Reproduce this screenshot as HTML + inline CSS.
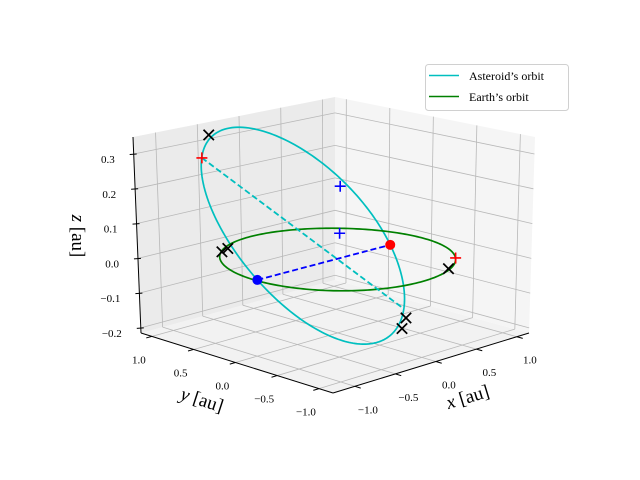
<!DOCTYPE html>
<html><head><meta charset="utf-8"><style>
html,body{margin:0;padding:0;background:#fff;}
svg{display:block;font-family:"Liberation Serif",serif;}
</style></head><body>
<svg id="chart" width="640" height="480" viewBox="0 0 640 480" xmlns="http://www.w3.org/2000/svg">
<g id="panes"></g><g id="grid"></g><g id="axes"></g><g id="series"></g><g id="marks"></g>
<g>
<rect x="425.5" y="64.5" width="143" height="46" rx="3" fill="#fff" fill-opacity="0.8" stroke="#d0d0d0"/>
<line x1="429" y1="75.5" x2="459" y2="75.5" stroke="#00bfbf" stroke-width="1.5"/>
<text x="469" y="80" font-size="12">Asteroid’s orbit</text>
<line x1="429" y1="96.5" x2="459" y2="96.5" stroke="#008000" stroke-width="1.5"/>
<text x="469" y="101" font-size="12">Earth’s orbit</text>
</g>
<text x="468" y="403" font-size="19" text-anchor="middle" transform="rotate(-17 468 398)"><tspan font-style="italic">x</tspan> [au]</text>
<text x="202" y="406" font-size="19" text-anchor="middle" transform="rotate(18 202 400)"><tspan font-style="italic">y</tspan> [au]</text>
<text x="72" y="236" font-size="19" text-anchor="middle" transform="rotate(90 72 236)"><tspan font-style="italic">z</tspan> [au]</text>
</svg>
<script>
const xTicks=[-1,-0.5,0,0.5,1];
const yTicks=[-1,-0.5,0,0.5,1];
const zTicks=[-0.2,-0.1,0,0.1,0.2,0.3];
const xTickLabels=["−1.0","−0.5","0.0","0.5","1.0"];
const yTickLabels=["−1.0","−0.5","0.0","0.5","1.0"];
const zTickLabels=["−0.2","−0.1","0.0","0.1","0.2","0.3"];
const xRange=[-1.27,1.15];
const yRange=[-1.168,1.13];
const zRange=[-0.2147,0.349];
// asteroid orbital elements: a, e, inclination deg, node deg, arg of perihelion deg
const asteroidElements=[0.875,0.333,17.7,0,-51.7];
const earthRadius=[1.0];
const redPlusPts=[[-0.723,0.87,0.278],[0.725,-0.69,0]];
const bluePlusPts=[[0.527,0.473,0.151],[0.614,0.564,0]];
const blackXPts=[[-0.485,1.015,0.324],[-0.567,0.815,0],[-0.451,0.857,0],[0.438,-0.882,0],[0.326,-0.497,-0.159],[0.215,-0.557,-0.178]];

const NS="http://www.w3.org/2000/svg";
const C={F0:[333,393],R0:[529,333],L0:[141,333],B0:[335,280],F1:[332,188],R1:[535,137],L1:[133,137],B1:[335,97]};
function proj(x,y,z){
  const u=(x-xRange[0])/(xRange[1]-xRange[0]),v=(y-yRange[0])/(yRange[1]-yRange[0]),w=(z-zRange[0])/(zRange[1]-zRange[0]);
  const bl=(F,R,L,B,i)=>F[i]*(1-u)*(1-v)+R[i]*u*(1-v)+L[i]*(1-u)*v+B[i]*u*v;
  return [0,1].map(i=>bl(C.F0,C.R0,C.L0,C.B0,i)*(1-w)+bl(C.F1,C.R1,C.L1,C.B1,i)*w);
}
function mk(tag,attrs,parent){const e=document.createElementNS(NS,tag);for(const k in attrs)e.setAttribute(k,attrs[k]);document.getElementById(parent).appendChild(e);return e;}
function poly(pts){return pts.map(p=>p[0].toFixed(2)+","+p[1].toFixed(2)).join(" ");}
const [x0,x1]=xRange,[y0,y1]=yRange,[z0,z1]=zRange;
let e;
e=mk("polygon",{points:poly([proj(x0,y0,z0),proj(x1,y0,z0),proj(x1,y1,z0),proj(x0,y1,z0)]),fill:"#f2f2f2"},"panes");


e=mk("polygon",{points:poly([proj(x0,y1,z0),proj(x1,y1,z0),proj(x1,y1,z1),proj(x0,y1,z1)]),fill:"#ebebeb"},"panes");


e=mk("polygon",{points:poly([proj(x1,y0,z0),proj(x1,y1,z0),proj(x1,y1,z1),proj(x1,y0,z1)]),fill:"#f5f5f5"},"panes");


function gl(a,b,name){const p=proj(...a),q=proj(...b);const l=mk("line",{x1:p[0],y1:p[1],x2:q[0],y2:q[1],stroke:"#b8b8b8","stroke-width":0.8},"grid");

}
xTicks.forEach(x=>{gl([x,y0,z0],[x,y1,z0],'x-gridline');gl([x,y1,z0],[x,y1,z1],'x-gridline');});
yTicks.forEach(y=>{gl([x0,y,z0],[x1,y,z0],'y-gridline');gl([x1,y,z0],[x1,y,z1],'y-gridline');});
zTicks.forEach(z=>{gl([x0,y1,z],[x1,y1,z],'z-gridline');gl([x1,y0,z],[x1,y1,z],'z-gridline');});
function al(a,b,name){const p=proj(...a),q=proj(...b);const l=mk("line",{x1:p[0],y1:p[1],x2:q[0],y2:q[1],stroke:"#000","stroke-width":1},"axes");

}
al([x0,y0,z0],[x1,y0,z0],'x-axis-line');
al([x0,y0,z0],[x0,y1,z0],'y-axis-line');
al([x0,y1,z0],[x0,y1,z1],'z-axis-line');
function tl(txt,x,y,anchor,name){const t=mk("text",{x:x,y:y,"font-size":11,"text-anchor":anchor},"axes");t.textContent=txt;

}
xTicks.forEach((x,i)=>{const p=proj(x,y0,z0),q=proj(x,y0-0.07,z0);
  const l=mk("line",{x1:p[0],y1:p[1],x2:q[0],y2:q[1],stroke:"#000","stroke-width":1},"axes");
  
  
  tl(xTickLabels[i],p[0]+13,p[1]+27,"middle",'x-tick-label');});
yTicks.forEach((y,i)=>{const p=proj(x0,y,z0),q=proj(x0-0.07,y,z0);
  const l=mk("line",{x1:p[0],y1:p[1],x2:q[0],y2:q[1],stroke:"#000","stroke-width":1},"axes");
  
  
  tl(yTickLabels[i],p[0]-13,p[1]+27,"middle",'y-tick-label');});
zTicks.forEach((z,i)=>{const p=proj(x0,y1,z);
  const l=mk("line",{x1:p[0]-4,y1:p[1]+0.5,x2:p[0]+3,y2:p[1],stroke:"#000","stroke-width":1},"axes");
  
  
  tl(zTickLabels[i],p[0]-19,p[1]+9,"end",'z-tick-label');});
const [a,ecc,incD,OmD,omD]=asteroidElements;
const inc=incD*Math.PI/180,Om=OmD*Math.PI/180,om=omD*Math.PI/180;
const pSemi=a*(1-ecc*ecc);
function orbitPos(nu){const r=pSemi/(1+ecc*Math.cos(nu));const th=om+nu;
  const xo=r*Math.cos(th),yo=r*Math.sin(th);
  return [xo*Math.cos(Om)-yo*Math.cos(inc)*Math.sin(Om),xo*Math.sin(Om)+yo*Math.cos(inc)*Math.cos(Om),yo*Math.sin(inc)];}
let ast=[];for(let k=0;k<=240;k++){ast.push(proj(...orbitPos(2*Math.PI*k/240)));}
e=mk("polyline",{points:poly(ast),fill:"none",stroke:"#00bfbf","stroke-width":1.7},"series");


let ea=[];for(let k=0;k<=240;k++){const t=2*Math.PI*k/240;ea.push(proj(earthRadius[0]*Math.cos(t),earthRadius[0]*Math.sin(t),0));}
e=mk("polyline",{points:poly(ea),fill:"none",stroke:"#008000","stroke-width":1.7},"series");


const peri=orbitPos(0),aph=orbitPos(Math.PI);
const nodeA=orbitPos(-om),nodeD=orbitPos(Math.PI-om);
function dl(A,B,col,name){const p=proj(...A),q=proj(...B);const l=mk("line",{x1:p[0],y1:p[1],x2:q[0],y2:q[1],stroke:col,"stroke-width":1.8,"stroke-dasharray":"6,3"},"series");

}
dl(aph,peri,"#00bfbf",'line-of-apsides');
dl(nodeD,nodeA,"#0000ff",'line-of-nodes');
function dot(P,col,name){const p=proj(...P);const c=mk("circle",{cx:p[0],cy:p[1],r:5,fill:col},"marks");

}
dot(nodeA,"#ff0000",'ascending-node');
dot(nodeD,"#0000ff",'descending-node');
function plus(P,col,name){const p=proj(...P),s=5.5;const g=mk("path",{d:`M${p[0]-s},${p[1]}H${p[0]+s}M${p[0]},${p[1]-s}V${p[1]+s}`,stroke:col,"stroke-width":1.6,fill:"none"},"marks");

}
redPlusPts.forEach(P=>plus(P,"#ff0000",'red-plus-marker'));
bluePlusPts.forEach(P=>plus(P,"#0000ff",'blue-plus-marker'));
blackXPts.forEach(P=>{const p=proj(...P),s=5.2;const g=mk("path",{d:`M${p[0]-s},${p[1]-s}L${p[0]+s},${p[1]+s}M${p[0]-s},${p[1]+s}L${p[0]+s},${p[1]-s}`,stroke:"#000","stroke-width":1.7,fill:"none"},"marks");

});
</script>
</body></html>
